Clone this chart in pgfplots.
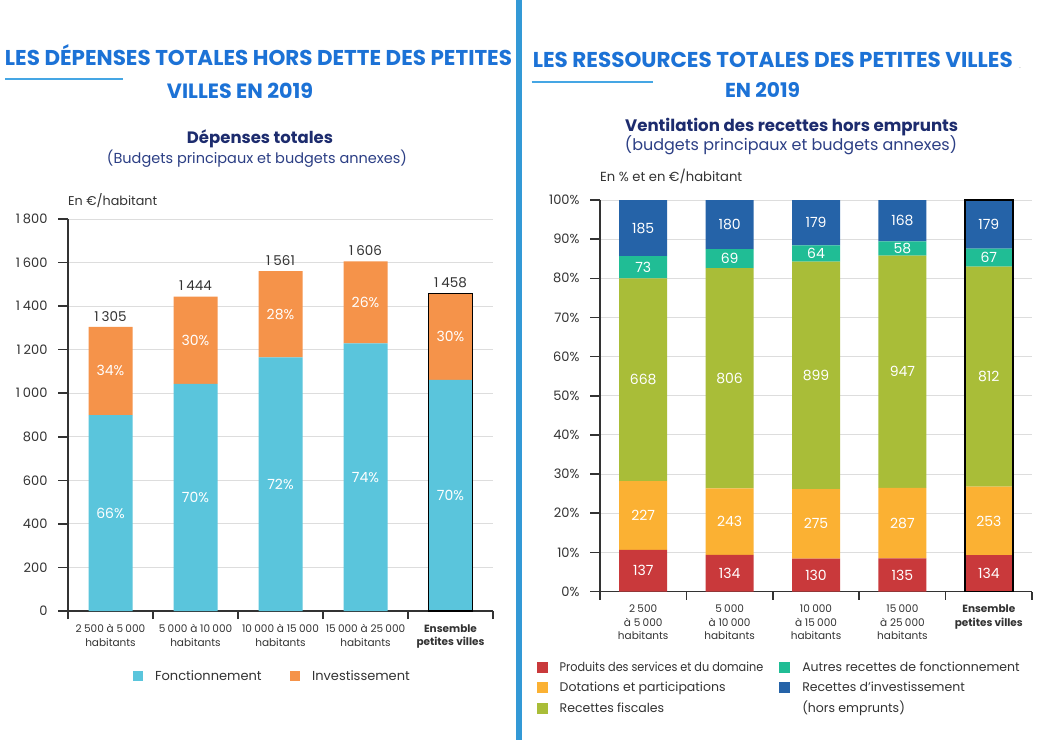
\documentclass[border=0pt]{standalone}
\usepackage{pgfplots}
\pgfplotsset{compat=1.18}
\usepackage{fontspec}
\setmainfont{Poppins}
\usepackage{graphicx}
\newcommand{\ts}{\kern0.22em}

\definecolor{titleblue}{HTML}{1C72D6}
\definecolor{lineblue}{HTML}{45A6E4}
\definecolor{divblue}{HTML}{3399D6}
\definecolor{navy}{HTML}{1D2C6E}
\definecolor{navy2}{HTML}{2C3F85}
\definecolor{txt}{HTML}{333333}
\definecolor{gridc}{HTML}{DDDDDD}
\definecolor{cfonc}{HTML}{5AC5DC}
\definecolor{cinv}{HTML}{F5934A}
\definecolor{cprod}{HTML}{C9393B}
\definecolor{cdot}{HTML}{FBB133}
\definecolor{cfisc}{HTML}{A9BD38}
\definecolor{cautr}{HTML}{20BD95}
\definecolor{crinv}{HTML}{2563A8}

\pgfplotsset{
  base/.style={
    scale only axis, xmin=-0.5, xmax=4.5, clip=false,
    axis lines=left,
    axis line style={-, draw=txt, line width=1.5pt},
    tick align=outside,
    major tick length=10pt, minor tick length=8pt,
    ytick style={draw=txt, line width=1.5pt},
    major x tick style={draw=none},
    minor x tick style={draw=txt, line width=1.5pt},
    xtick={0,...,4},
    minor xtick={-0.5,0.5,...,4.5},
    ymajorgrids, grid style={draw=gridc, line width=1pt},
    tick label style={text=txt},
    yticklabel style={font=\fontsize{13}{15}\selectfont, xshift=-7pt},
    xticklabel style={font=\fontsize{10.5}{13.3}\selectfont, align=center},
  },
  over/.style={
    scale only axis, xmin=-0.5, xmax=4.5, hide axis, clip=false,
  },
  midlabels/.style={
    nodes near coords, point meta=explicit symbolic,
    every node near coord/.append style={anchor=center, text=white,
      font=\fontsize{14}{16}\selectfont},
  },
}

\begin{document}
\begin{tikzpicture}
\useasboundingbox (0pt,0pt) rectangle (1040pt,740pt);
\fill[white] (0pt,0pt) rectangle (1040pt,740pt);
\fill[divblue] (516pt,0pt) rectangle (522pt,740pt);

% ---- titles left
\node[anchor=base, text=titleblue, inner sep=0pt] at (258.5pt,674pt) {\resizebox{507pt}{!}{\bfseries LES DÉPENSES TOTALES HORS DETTE DES PETITES}};
\node[anchor=base, text=titleblue, inner sep=0pt] at (240pt,641pt) {\resizebox{146pt}{!}{\bfseries VILLES EN 2019}};
\draw[lineblue, line width=2pt] (5pt,660.7pt) -- (123pt,660.7pt);
\node[anchor=base, text=navy, inner sep=0pt] at (260pt,596pt) {\resizebox{146pt}{!}{\bfseries Dépenses totales}};
\node[anchor=center, text=navy2, inner sep=0pt] at (257pt,581.7pt) {\resizebox{300pt}{!}{(Budgets principaux et budgets annexes)}};
\node[anchor=west, text=txt, inner sep=0pt] at (68pt,539pt) {\resizebox{89pt}{!}{En €/habitant}};

% ---- titles right
\node[anchor=base, text=titleblue, inner sep=0pt] at (772.8pt,672.7pt) {\resizebox{480pt}{!}{\bfseries LES RESSOURCES TOTALES DES PETITES VILLES}};
\node[anchor=base, text=gray!50, inner sep=0pt, font=\fontsize{9}{9}\selectfont] at (1020pt,671pt) {.};
\node[anchor=base, text=titleblue, inner sep=0pt] at (762.5pt,642pt) {\resizebox{75pt}{!}{\bfseries EN 2019}};
\draw[lineblue, line width=2pt] (531.7pt,658.3pt) -- (653pt,658.3pt);
\node[anchor=base, text=navy, inner sep=0pt] at (791.7pt,608.3pt) {\resizebox{333pt}{!}{\bfseries Ventilation des recettes hors emprunts}};
\node[anchor=center, text=navy2, inner sep=0pt] at (791pt,594.5pt) {\resizebox{332pt}{!}{(budgets principaux et budgets annexes)}};
\node[anchor=west, text=txt, inner sep=0pt] at (600pt,564pt) {\resizebox{142pt}{!}{En \% et en €/habitant}};

% ================= LEFT CHART =================
\begin{axis}[base, at={(68pt,129pt)}, anchor=south west, width=425pt, height=392pt,
  ymin=0, ymax=1800, ytick={0,200,...,1800},
  yticklabels={0,200,400,600,800,1\ts000,1\ts200,1\ts400,1\ts600,1\ts800},
  xticklabels={{2\ts500 à 5\ts000\\habitants},{5\ts000 à 10\ts000\\habitants},{10\ts000 à 15\ts000\\habitants},{15\ts000 à 25\ts000\\habitants},{\textbf{Ensemble}\\\textbf{petites villes}}},
  ybar stacked, bar width=44pt]
\addplot[fill=cfonc, draw=none, midlabels] coordinates {(0,900)[66\%] (1,1043)[70\%] (2,1165)[72\%] (3,1229)[74\%] (4,1061)[70\%]};
\addplot[fill=cinv, draw=none, midlabels] coordinates {(0,405)[34\%] (1,401)[30\%] (2,396)[28\%] (3,377)[26\%] (4,397)[30\%]};
\end{axis}

\begin{axis}[over, at={(68pt,129pt)}, anchor=south west, width=425pt, height=392pt,
  ymin=0, ymax=1800,
  legend columns=2,
  legend style={draw=none, fill=none, inner sep=0pt, outer sep=0pt,
    at={(0.152,-0.166)}, anchor=west,
    font=\fontsize{13}{15}\selectfont, text=txt,
    nodes={inner sep=2pt},
    /tikz/every odd column/.append style={column sep=10pt},
    /tikz/every even column/.append style={column sep=26pt}},
  legend image code/.code={\fill[#1] (0pt,-5pt) rectangle (10.5pt,5.5pt);},
]
\addplot[ybar, bar width=44pt, fill=none, draw=black, line width=1.6pt, forget plot] coordinates {(4,1458)};
\addplot[draw=none, forget plot, nodes near coords, point meta=explicit symbolic,
  every node near coord/.append style={anchor=south, text=txt, font=\fontsize{13.5}{15}\selectfont, yshift=2pt}]
  coordinates {(0,1305)[1\ts305] (1,1444)[1\ts444] (2,1561)[1\ts561] (3,1606)[1\ts606] (4,1458)[1\ts458]};
\addlegendimage{fill=cfonc, draw=none}
\addlegendentry{Fonctionnement}
\addlegendimage{fill=cinv, draw=none}
\addlegendentry{Investissement}
\end{axis}

% ================= RIGHT CHART =================
\begin{axis}[base, at={(600pt,148.5pt)}, anchor=south west, width=432pt, height=391.5pt,
  ymin=0, ymax=100, ytick={0,10,...,100},
  yticklabels={0\%,10\%,20\%,30\%,40\%,50\%,60\%,70\%,80\%,90\%,100\%},
  xticklabels={{2\ts500\\à 5\ts000\\habitants},{5\ts000\\à 10\ts000\\habitants},{10\ts000\\à 15\ts000\\habitants},{15\ts000\\à 25\ts000\\habitants},{\textbf{Ensemble}\\\textbf{petites villes}}},
  ybar stacked, bar width=48pt]
\addplot[fill=cprod, draw=none, midlabels] coordinates {(0,10.62)[137] (1,9.36)[134] (2,8.40)[130] (3,8.46)[135] (4,9.27)[134]};
\addplot[fill=cdot, draw=none, midlabels] coordinates {(0,17.60)[227] (1,16.97)[243] (2,17.78)[275] (3,17.99)[287] (4,17.51)[253]};
\addplot[fill=cfisc, draw=none, midlabels] coordinates {(0,51.78)[668] (1,56.28)[806] (2,58.11)[899] (3,59.37)[947] (4,56.19)[812]};
\addplot[fill=cautr, draw=none, midlabels] coordinates {(0,5.66)[73] (1,4.82)[69] (2,4.14)[64] (3,3.64)[58] (4,4.64)[67]};
\addplot[fill=crinv, draw=none, midlabels] coordinates {(0,14.34)[185] (1,12.57)[180] (2,11.57)[179] (3,10.53)[168] (4,12.39)[179]};
\end{axis}

\begin{axis}[over, at={(600pt,148.5pt)}, anchor=south west, width=432pt, height=391.5pt,
  ymin=0, ymax=100,
  legend columns=2,
  legend cell align=left,
  legend style={draw=none, fill=none, inner sep=0pt, outer sep=0pt,
    at={(-0.1465,-0.1725)}, anchor=north west,
    font=\fontsize{12.5}{15}\selectfont, text=txt,
    nodes={inner sep=2pt, text height=10pt, text depth=3pt},
    row sep=3.5pt,
    /tikz/every odd column/.append style={column sep=10pt},
    /tikz/every even column/.append style={column sep=14pt}},
  legend image code/.code={\fill[#1] (0pt,-5pt) rectangle (11pt,6pt);},
]
\addplot[ybar, bar width=48pt, fill=none, draw=black, line width=1.6pt, forget plot] coordinates {(4,100)};
\addlegendimage{fill=cprod, draw=none}
\addlegendentry{\scalebox{0.9}[1]{Produits des services et du domaine}}
\addlegendimage{fill=cautr, draw=none}
\addlegendentry{Autres recettes de fonctionnement}
\addlegendimage{fill=cdot, draw=none}
\addlegendentry{Dotations et participations}
\addlegendimage{fill=crinv, draw=none}
\addlegendentry{Recettes d’investissement}
\addlegendimage{fill=cfisc, draw=none}
\addlegendentry{Recettes fiscales}
\addlegendimage{fill=white, draw=none}
\addlegendentry{(hors emprunts)}
\end{axis}
\end{tikzpicture}
\end{document}
